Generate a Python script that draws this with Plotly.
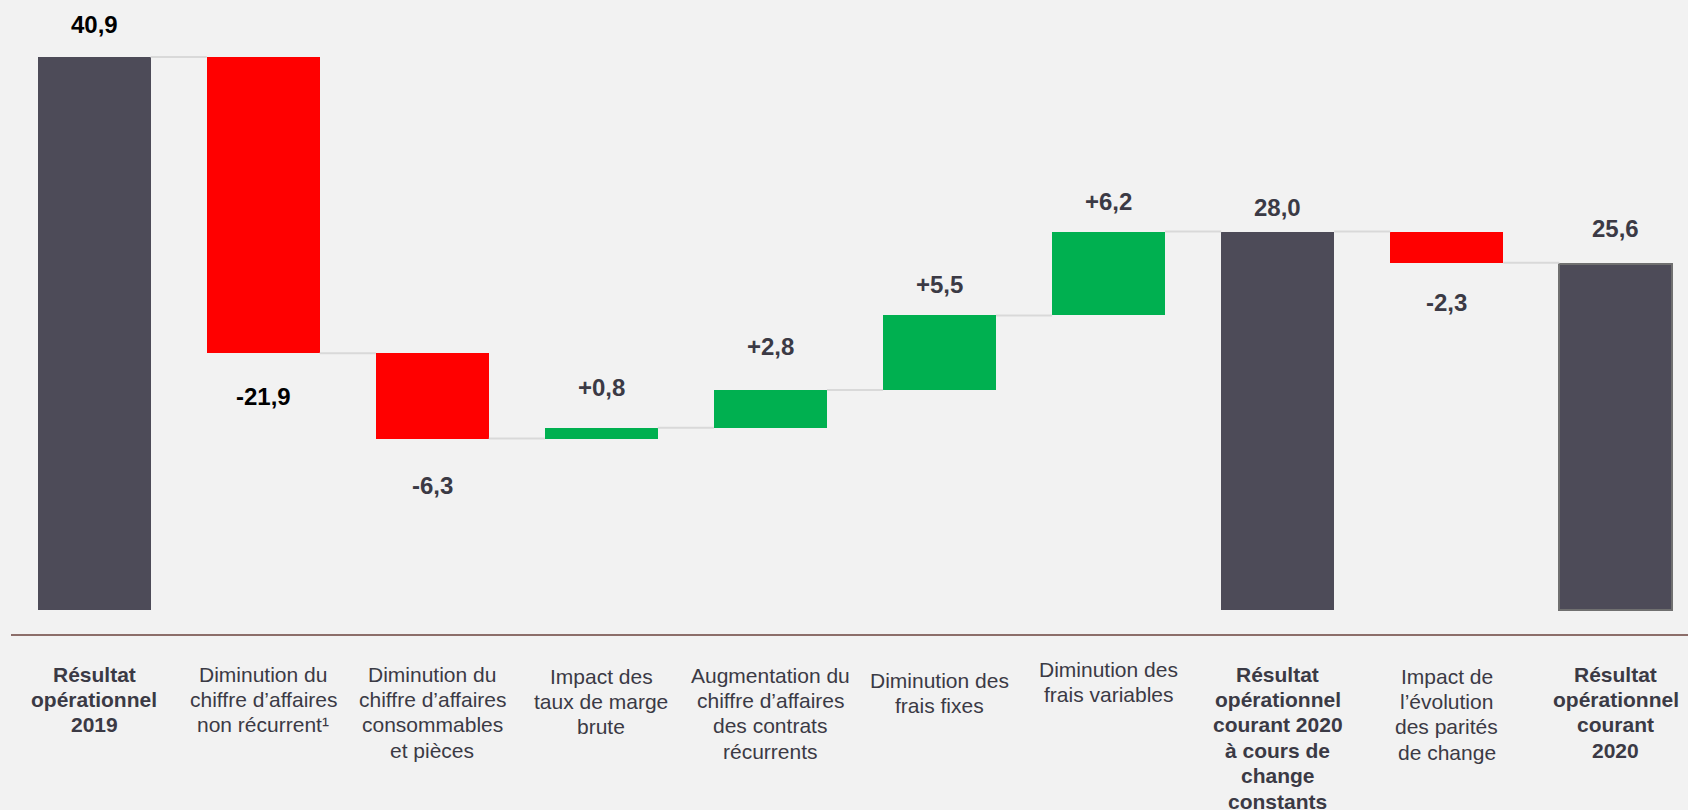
import plotly.graph_objects as go

# ---------------- data ----------------
category_lines = [
    ["Résultat", "opérationnel", "2019"],
    ["Diminution du", "chiffre d’affaires", "non récurrent¹"],
    ["Diminution du", "chiffre d’affaires", "consommables", "et pièces"],
    ["Impact des", "taux de marge", "brute"],
    ["Augmentation du", "chiffre d’affaires", "des contrats", "récurrents"],
    ["Diminution des", "frais fixes"],
    ["Diminution des", "frais variables"],
    ["Résultat", "opérationnel", "courant 2020", "à cours de", "change", "constants"],
    ["Impact de", "l’évolution", "des parités", "de change"],
    ["Résultat", "opérationnel", "courant", "2020"],
]
values = [40.9, -21.9, -6.3, 0.8, 2.8, 5.5, 6.2, 28.0, -2.3, 25.6]
measures = ["total", "relative", "relative", "relative", "relative",
            "relative", "relative", "total", "relative", "total"]
value_labels = ["40,9", "-21,9", "-6,3", "+0,8", "+2,8", "+5,5", "+6,2",
                "28,0", "-2,3", "25,6"]

# ---------------- styles ----------------
BG = "#F2F2F2"
TOTAL_C = "#4D4B58"
NEG_C = "#FF0000"
POS_C = "#00B050"
CONN_C = "#D9D9D9"
TEXT_C = "#3B3A45"
AXIS_C = "#8C6E6A"
BAR_W = 0.668
FONT = "Liberation Sans, Arial, sans-serif"
TICK_SIZE = 21
LINE_PITCH = 25.4      # px between category label lines
FIRST_LINE = 40        # px from axis line to centre of first label line
# per-category vertical nudge of the label block (px, positive = lower)
cat_nudge = [0, 0, 0, 2, 1, 6, -5, 0, 2, 0]
# pixel gap between bar edge and centre of its value label
label_gap = [33, 43, 47, 40, 43, 31, 30, 24, 40, 36]
label_color = ["#000000", "#000000"] + [TEXT_C] * 8

# ---------------- compute waterfall geometry ----------------
n = len(values)
xs = list(range(n))
bases, heights, colors, levels = [], [], [], []
running = 0.0
for v, m in zip(values, measures):
    if m == "total":
        bases.append(0.0)
        heights.append(v)
        colors.append(TOTAL_C)
        running = v
    else:
        bases.append(running)
        heights.append(v)
        colors.append(POS_C if v >= 0 else NEG_C)
        running = running + v
    levels.append(running)

line_colors = list(colors)
line_widths = [0] * n
line_colors[-1] = "#707070"
line_widths[-1] = 2

fig = go.Figure()

# connectors
cx, cy = [], []
for i in range(n - 1):
    cx += [xs[i] + BAR_W / 2, xs[i + 1] - BAR_W / 2, None]
    cy += [levels[i], levels[i], None]
fig.add_trace(go.Scatter(x=cx, y=cy, mode="lines",
                         line=dict(color=CONN_C, width=2),
                         hoverinfo="skip", showlegend=False))

fig.add_trace(go.Bar(
    x=xs, y=heights, base=bases, width=BAR_W,
    marker=dict(color=colors, line=dict(color=line_colors, width=line_widths)),
    showlegend=False, hoverinfo="skip",
))

# value labels
for i in range(n):
    top = max(bases[i], bases[i] + heights[i])
    bot = min(bases[i], bases[i] + heights[i])
    if measures[i] == "total" or values[i] >= 0:
        y, shift = top, label_gap[i]
    else:
        y, shift = bot, -label_gap[i]
    fig.add_annotation(
        x=xs[i], y=y, yshift=shift, text=f"<b>{value_labels[i]}</b>",
        showarrow=False, xanchor="center", yanchor="middle",
        font=dict(family=FONT, size=24, color=label_color[i]),
    )

# category labels (one annotation per line for tight line spacing)
for i, lines in enumerate(category_lines):
    for k, line in enumerate(lines):
        txt = f"<b>{line}</b>" if measures[i] == "total" else line
        fig.add_annotation(
            x=xs[i], y=0, xref="x", yref="paper",
            yshift=-(FIRST_LINE + cat_nudge[i] + k * LINE_PITCH),
            text=txt, showarrow=False, xanchor="center", yanchor="middle",
            font=dict(family=FONT, size=TICK_SIZE, color=TEXT_C),
        )

fig.update_layout(
    width=1688, height=810,
    margin=dict(l=11, r=0, t=0, b=176),
    paper_bgcolor=BG, plot_bgcolor=BG,
    bargap=0,
    xaxis=dict(range=[-0.492, 9.427], showgrid=False, zeroline=False,
               showticklabels=False, ticks="", showline=True,
               linecolor=AXIS_C, linewidth=1.5, fixedrange=True),
    yaxis=dict(range=[-1.744, 45.12], showgrid=False, zeroline=False,
               showticklabels=False, ticks="", showline=False, fixedrange=True),
)

fig.write_html("out.html", config={"displayModeBar": False},
               post_script="document.body.style.margin='0';")
